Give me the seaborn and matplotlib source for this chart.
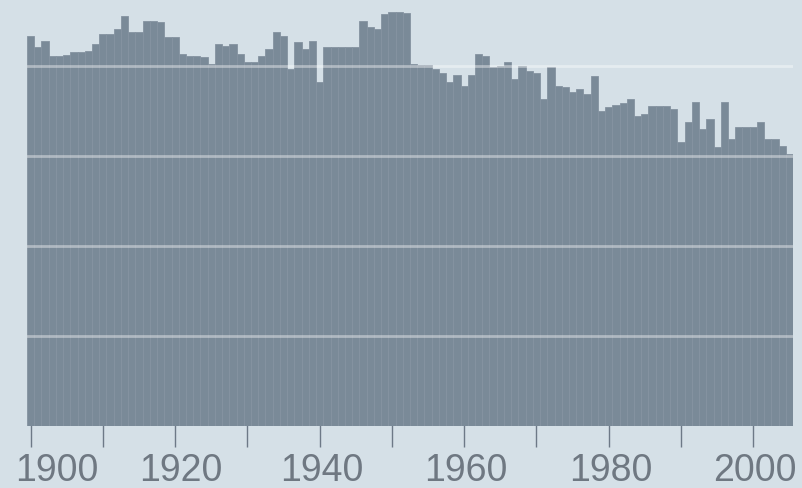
import numpy as np
import pandas as pd
import matplotlib
matplotlib.use("Agg")
import matplotlib.pyplot as plt
from matplotlib.transforms import ScaledTranslation
import seaborn as sns

years = list(range(1900, 2006))
values = [
    43.3, 42.1, 42.8, 41.1, 41.1, 41.2, 41.6, 41.6, 41.7, 42.4,  # 1900s
    43.6, 43.6, 44.1, 45.6, 43.8, 43.8, 45.0, 45.0, 44.9, 43.2,  # 1910s
    43.2, 41.3, 41.1, 41.1, 41.0, 40.2, 42.4, 42.2, 42.4, 41.3,  # 1920s
    40.4, 40.4, 41.1, 41.9, 43.8, 43.3, 39.7, 42.7, 41.9, 42.8,  # 1930s
    38.2, 42.1, 42.1, 42.1, 42.1, 42.1, 45.0, 44.3, 44.1, 45.8,  # 1940s
    46.0, 46.0, 45.9, 40.2, 40.1, 40.1, 39.7, 39.2, 38.2, 39.0,  # 1950s
    37.8, 39.0, 41.3, 41.1, 39.9, 40.0, 40.4, 38.6, 40.0, 39.4,  # 1960s
    39.2, 36.3, 39.9, 37.8, 37.7, 37.1, 37.4, 36.9, 38.9, 35.0,  # 1970s
    35.4, 35.7, 35.9, 36.3, 34.4, 34.7, 35.6, 35.6, 35.6, 35.2,  # 1980s
    31.6, 33.8, 36.0, 33.0, 34.1, 31.0, 36.0, 31.9, 33.2, 33.2,  # 1990s
    33.2, 33.8, 31.9, 31.9, 31.1, 30.2,                          # 2000s
]
label_years = [1900, 1920, 1940, 1960, 1980, 2000]
minor_years = [1910, 1930, 1950, 1970, 1990]
grid_levels = [10, 20, 30, 40]

bar_color = "#7a8a98"
bg_color = "#d5e0e7"
text_color = "#6f7882"

df = pd.DataFrame({"year": years, "value": values})

sns.set_theme(style="white")
plt.rcParams["font.family"] = ["Liberation Sans", "DejaVu Sans"]

fig = plt.figure(figsize=(8.03, 4.89), dpi=100, facecolor=bg_color)
ax = fig.add_axes([27 / 803, 1 - 427 / 489, 766 / 803, 427 / 489])
ax.set_facecolor(bg_color)

sns.barplot(data=df, x="year", y="value", native_scale=True, width=1.0,
            color=bar_color, saturation=1, edgecolor="#8593a1",
            linewidth=0.6, ax=ax, zorder=2)

for lvl in grid_levels:
    ax.axhline(lvl, color="white", lw=2.0, alpha=0.4, zorder=3)

ax.set_xlim(1899.5, 2005.5)
ax.set_ylim(0, 427 / 9)
for s in ax.spines.values():
    s.set_visible(False)

ax.set_yticks([])
ax.set_xticks(label_years)
ax.set_xticklabels([str(y) for y in label_years])
ax.set_xticks(minor_years, minor=True)
ax.tick_params(axis="x", which="both", direction="inout", length=30,
               width=1.0, color="#6d7987", bottom=True, labelsize=27,
               labelcolor=text_color, pad=4)
ax.set_xlabel("")
ax.set_ylabel("")

# nudge the first labels inward so they sit inside the figure
shifts = {1900: 26, 1920: 6}
for lab, yr in zip(ax.get_xticklabels(), label_years):
    dx = shifts.get(yr, 2)
    lab.set_transform(lab.get_transform() + ScaledTranslation(dx / 100, 0, fig.dpi_scale_trans))

fig.savefig("out.png", dpi=100, facecolor=bg_color)
